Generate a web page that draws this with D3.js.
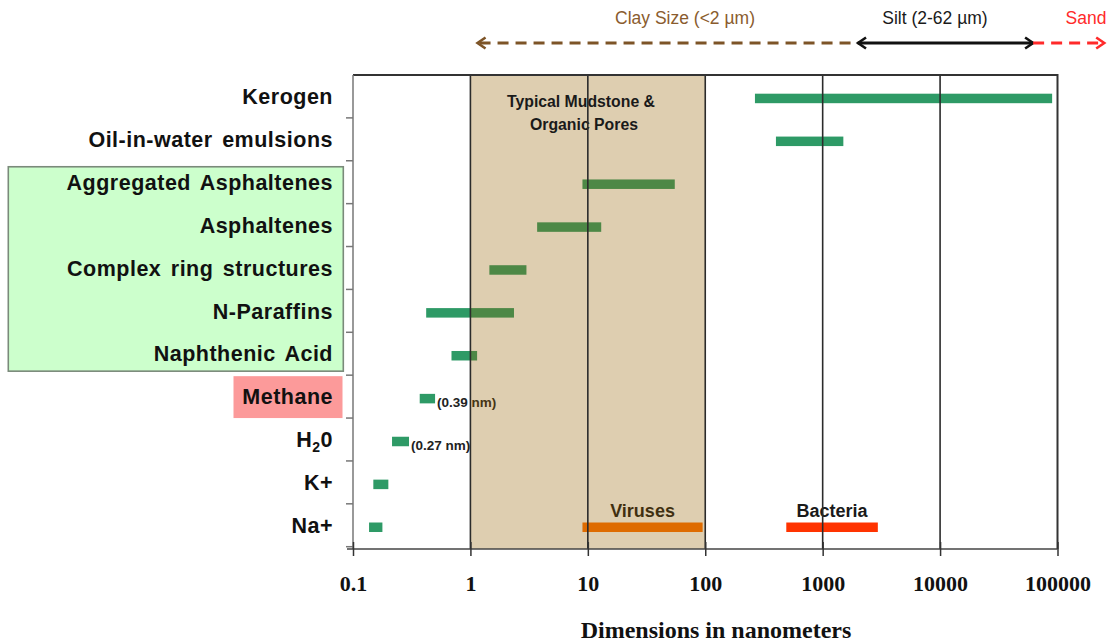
<!DOCTYPE html>
<html>
<head>
<meta charset="utf-8">
<script src="https://cdn.jsdelivr.net/npm/d3@7/dist/d3.min.js"></script>
<style>
  html, body { margin: 0; padding: 0; background: #fff; }
  svg { display: block; }
  .sans { font-family: "Liberation Sans", Arial, sans-serif; }
  .serif { font-family: "Liberation Serif", "Times New Roman", serif; }
</style>
</head>
<body>
<svg id="chart" width="1110" height="642"></svg>
<script>
// Molecule / particle categories, top to bottom
const categories = [
  "Kerogen", "Oil-in-water emulsions", "Aggregated Asphaltenes", "Asphaltenes",
  "Complex ring structures", "N-Paraffins", "Naphthenic Acid", "Methane",
  "H2O", "K+", "Na+"
];
// Size range of each category, nm
const sizeMin = [265, 400, 9, 3.7, 1.45, 0.42, 0.69, 0.37, 0.215, 0.149, 0.137];
const sizeMax = [90000, 1500, 55, 13, 3, 2.35, 1.14, 0.5, 0.30, 0.2, 0.178];

// Organisms drawn on the bottom row
const organisms = ["Viruses", "Bacteria"];
const organismMin = [9, 490];
const organismMax = [95, 2950];

// Quoted molecular diameters, nm
const noteRows = ["Methane", "H2O"];
const noteValues = [0.39, 0.27];

// Grain-size classes across the top, nm
const grainNames = ["Clay Size (<2 µm)", "Silt (2-62 µm)", "Sand"];
const grainFrom = [1.15, 2000, 62000];
const grainTo = [2000, 62000, 250000];

// Typical mudstone pore range, nm
const poreRange = [1, 100];

// Axis ticks
const tickValues = [0.1, 1, 10, 100, 1000, 10000, 100000];
const tickLabels = ["0.1", "1", "10", "100", "1000", "10000", "100000"];

const svg = d3.select("#chart");
const plotTop = 75, plotBottom = 546.7, axisY = 549;

const x = d3.scaleLog().domain([0.1, 100000]).range([353, 1057.5]);
const y = d3.scaleBand().domain(categories).range([plotTop, plotBottom]).padding(0);
const bw = y.bandwidth();
const rowMid = c => y(c) + bw / 2;

const green = "#2e9a66";
const barH = 9.5;

// Highlight boxes behind the row labels
svg.append("rect")
  .attr("x", 8.3).attr("width", 335)
  .attr("y", y("Aggregated Asphaltenes") + 6)
  .attr("height", (y("Naphthenic Acid") + bw - 4) - (y("Aggregated Asphaltenes") + 6))
  .attr("fill", "#ccffcc").attr("stroke", "#7a8a7a").attr("stroke-width", 1.6);
svg.append("rect")
  .attr("x", 233.5).attr("width", 109)
  .attr("y", y("Methane") + 1).attr("height", bw - 1)
  .attr("fill", "#fc9a9a");

// Row labels
const labels = svg.append("g").attr("class", "sans")
  .attr("font-weight", "bold").attr("font-size", 21.5).attr("fill", "#111")
  .attr("letter-spacing", 0.5).attr("word-spacing", 3)
  .attr("text-anchor", "end");
categories.forEach(c => {
  const t = labels.append("text").attr("x", 333).attr("y", rowMid(c)).attr("dy", "0.36em");
  if (c === "H2O") {
    t.append("tspan").text("H");
    t.append("tspan").attr("font-size", 14).attr("dy", 5).text("2");
    t.append("tspan").attr("dy", -5).text("0");
  } else {
    t.text(c);
  }
});

// Size bars
svg.append("g").selectAll("rect").data(categories).join("rect")
  .attr("x", (c, i) => x(sizeMin[i]))
  .attr("width", (c, i) => x(sizeMax[i]) - x(sizeMin[i]))
  .attr("y", c => rowMid(c) + 2 - barH / 2)
  .attr("height", barH)
  .attr("fill", green);

// Diameter notes
svg.append("g").attr("class", "sans").attr("font-weight", "bold")
  .attr("font-size", 13.5).attr("fill", "#222")
  .selectAll("text").data(noteRows).join("text")
  .attr("x", c => x(sizeMax[categories.indexOf(c)]) + 2)
  .attr("y", c => rowMid(c) + 6)
  .attr("dy", "0.35em")
  .text((c, i) => `(${noteValues[i]} nm)`);

// Viruses and bacteria
const orgColors = ["#ff7000", "#ff3300"];
svg.append("g").selectAll("rect").data(organisms).join("rect")
  .attr("x", (d, i) => x(organismMin[i]))
  .attr("width", (d, i) => x(organismMax[i]) - x(organismMin[i]))
  .attr("y", rowMid("Na+") + 2 - barH / 2)
  .attr("height", barH)
  .attr("fill", (d, i) => orgColors[i]);
svg.append("g").attr("class", "sans").attr("font-weight", "bold")
  .attr("font-size", 18).attr("fill", "#1a1a1a").attr("text-anchor", "middle")
  .selectAll("text").data(organisms).join("text")
  .attr("x", (d, i) => (x(organismMin[i]) + x(organismMax[i])) / 2)
  .attr("y", rowMid("Na+") - 14.5)
  .attr("dy", "0.35em")
  .text(d => d);

// Translucent mudstone pore band
svg.append("rect")
  .attr("x", x(poreRange[0])).attr("width", x(poreRange[1]) - x(poreRange[0]))
  .attr("y", plotTop).attr("height", axisY - plotTop)
  .attr("fill", "#936200").attr("fill-opacity", 0.31);

const band = svg.append("g").attr("class", "sans").attr("font-weight", "bold")
  .attr("font-size", 15.8).attr("fill", "#1a1a1a").attr("text-anchor", "middle");
band.append("text").attr("x", 581).attr("y", 107).text("Typical Mudstone &");
band.append("text").attr("x", 584).attr("y", 130).text("Organic Pores");

// Decade grid lines
svg.append("g").selectAll("line").data(tickValues.slice(1, -1)).join("line")
  .attr("x1", d => x(d)).attr("x2", d => x(d))
  .attr("y1", plotTop).attr("y2", axisY)
  .attr("stroke", "#2b2b2b").attr("stroke-width", 1.6);

// Frame: top and right
svg.append("path")
  .attr("d", `M${x(0.1)},${plotTop}H${x(100000)}V${axisY}`)
  .attr("fill", "none").attr("stroke", "#333").attr("stroke-width", 2);

// Left axis with ticks between rows
svg.append("line").attr("x1", 353).attr("x2", 353).attr("y1", plotTop).attr("y2", axisY)
  .attr("stroke", "#777").attr("stroke-width", 1.5);
svg.append("g").selectAll("line").data(categories).join("line")
  .attr("x1", 346).attr("x2", 353)
  .attr("y1", c => y(c) + bw).attr("y2", c => y(c) + bw)
  .attr("stroke", "#777").attr("stroke-width", 1.5);

// Bottom axis
const xAxis = d3.axisBottom(x).tickValues(tickValues)
  .tickFormat((d, i) => tickLabels[i]).tickSizeOuter(0).tickSize(7).tickPadding(19);
const gx = svg.append("g").attr("transform", `translate(0,${axisY})`).call(xAxis);
gx.select(".domain").attr("stroke", "#444").attr("stroke-width", 1.5)
  .attr("d", `M347,0H${x(100000)}`);
gx.selectAll(".tick line").attr("y1", -7).attr("y2", 7).attr("stroke", "#333").attr("stroke-width", 1.5);
gx.selectAll(".tick text").attr("class", "serif").attr("font-weight", "bold")
  .attr("font-size", 22).attr("fill", "#111");

svg.append("text").attr("class", "serif").attr("font-weight", "bold")
  .attr("font-size", 24).attr("fill", "#111").attr("text-anchor", "middle")
  .attr("x", 716).attr("y", 638).text("Dimensions in nanometers");

// Grain-size arrows across the top
const arrowY = 43;
const grainColors = ["#7d5427", "#111", "#ff2a2a"];
const grainText = ["#8a5c2e", "#1a1a1a", "#ff2a2a"];
const grainDash = ["11,7", null, "11,7"];
const grainLabelX = [685, 935, 1086];
const chevron = (tipX, dir) => `M${tipX - dir * 8},${arrowY - 5.5}L${tipX},${arrowY}L${tipX - dir * 8},${arrowY + 5.5}`;
grainNames.forEach((name, i) => {
  const x0 = x(grainFrom[i]), x1 = x(grainTo[i]);
  svg.append("line").attr("x1", x0 + (i === 0 ? 2 : 0)).attr("x2", x1 - (i === 2 ? 2 : 0))
    .attr("y1", arrowY).attr("y2", arrowY)
    .attr("stroke", grainColors[i]).attr("stroke-width", 2.8)
    .attr("stroke-dasharray", grainDash[i]);
  const heads = i === 0 ? [[x0, -1]] : i === 1 ? [[x0, -1], [x1, 1]] : [[x1, 1]];
  heads.forEach(([hx, dir]) => {
    svg.append("path").attr("d", chevron(hx, dir))
      .attr("fill", "none").attr("stroke", grainColors[i]).attr("stroke-width", 2.6);
  });
  svg.append("text").attr("class", "sans").attr("font-size", 17.5)
    .attr("fill", grainText[i]).attr("text-anchor", "middle")
    .attr("x", grainLabelX[i]).attr("y", 24).text(name);
});
</script>
</body>
</html>
